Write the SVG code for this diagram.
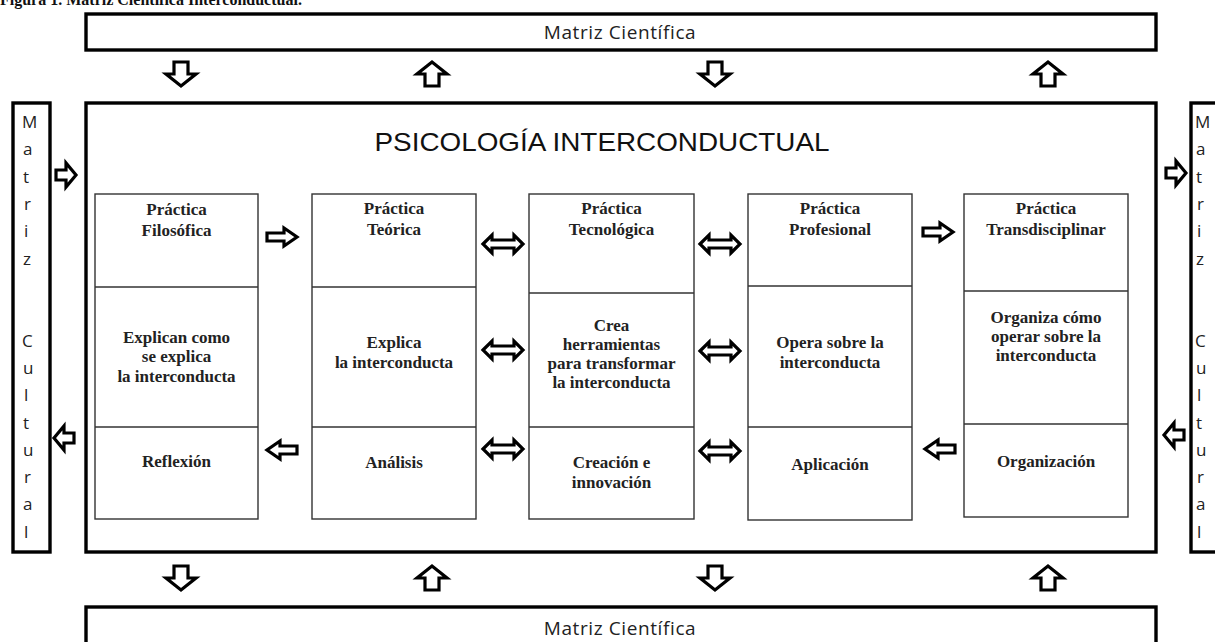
<svg xmlns="http://www.w3.org/2000/svg" width="1215" height="642" viewBox="0 0 1215 642">
<style>
.frame{fill:#fff;stroke:#000;stroke-width:3.4}
.cell{fill:#fff;stroke:#333;stroke-width:1.4}
.div{stroke:#333;stroke-width:1.4}
.arr{fill:#fff;stroke:#000;stroke-width:3.2;stroke-linejoin:miter}
.sans{font-family:"Open Sans","Liberation Sans",sans-serif;font-size:19px;letter-spacing:0.6px;fill:#222}
.vert{font-family:"Open Sans","Liberation Sans",sans-serif;font-size:17px;fill:#222}
.title{font-family:"Liberation Sans",Arial,sans-serif;font-size:26px;fill:#111}
.ser{font-family:"Liberation Serif","Times New Roman",serif;font-weight:bold;font-size:17px;fill:#222;text-anchor:middle}
.cap{font-family:"Liberation Serif","Times New Roman",serif;font-weight:bold;font-size:16px;fill:#111}
</style>
<defs>
<path id="aR" d="M-15,-4 H2 V-9 L15,0 L2,9 V4 H-15 Z"/>
<path id="aL" d="M15,-4 H-2 V-9 L-15,0 L-2,9 V4 H15 Z"/>
<path id="aD" d="M-20,0 L-11,-9 V-4 H11 V-9 L20,0 L11,9 V4 H-11 V9 Z"/>
<path id="sR" d="M-10,-5 H0 V-12 L10,0 L0,12 V5 H-10 Z"/>
<path id="sL" d="M10,-5 H0 V-12 L-10,0 L0,12 V5 H10 Z"/>
<path id="vD" d="M-7,-12 H7 V0 H15 L0,12 L-15,0 H-7 Z"/>
<path id="vU" d="M-7,12 H7 V0 H15 L0,-12 L-15,0 H-7 Z"/>
</defs>
<rect width="1215" height="642" fill="#fff"/>
<text class="cap" x="0" y="5">Figura 1. Matriz Científica Interconductual.</text>

<g id="matriz-cientifica-top">
<rect class="frame" x="86" y="14" width="1070" height="36"/>
<text class="sans" x="620" y="39" text-anchor="middle">Matriz  Científica</text>
</g>

<g id="matriz-cientifica-bottom">
<rect class="frame" x="86" y="607" width="1070" height="50"/>
<text class="sans" x="620" y="635" text-anchor="middle">Matriz  Científica</text>
</g>

<g id="matriz-cultural-left">
<rect class="frame" x="13" y="103" width="37" height="449"/>
<text class="vert">
<tspan x="22" y="128">M</tspan><tspan x="23" y="155">a</tspan><tspan x="23" y="183">t</tspan><tspan x="24" y="210">r</tspan><tspan x="24" y="237">i</tspan><tspan x="23" y="265">z</tspan>
<tspan x="22" y="347">C</tspan><tspan x="23" y="374">u</tspan><tspan x="24" y="401">l</tspan><tspan x="23" y="429">t</tspan><tspan x="23" y="456">u</tspan><tspan x="24" y="483">r</tspan><tspan x="23" y="510">a</tspan><tspan x="24" y="538">l</tspan>
</text>
</g>

<g id="matriz-cultural-right">
<rect class="frame" x="1191" y="103" width="37" height="449"/>
<text class="vert">
<tspan x="1195" y="128">M</tspan><tspan x="1196" y="155">a</tspan><tspan x="1196" y="183">t</tspan><tspan x="1197" y="210">r</tspan><tspan x="1197" y="237">i</tspan><tspan x="1196" y="265">z</tspan>
<tspan x="1195" y="347">C</tspan><tspan x="1196" y="374">u</tspan><tspan x="1197" y="401">l</tspan><tspan x="1196" y="429">t</tspan><tspan x="1196" y="456">u</tspan><tspan x="1197" y="483">r</tspan><tspan x="1196" y="510">a</tspan><tspan x="1197" y="538">l</tspan>
</text>
</g>

<g id="psicologia-interconductual">
<rect class="frame" x="86" y="103" width="1070" height="449"/>
<text class="title" x="602" y="151" text-anchor="middle" textLength="455" lengthAdjust="spacingAndGlyphs">PSICOLOGÍA INTERCONDUCTUAL</text>
</g>

<g id="practica-filosofica">
<rect class="cell" x="95" y="194" width="163" height="325"/>
<line class="div" x1="95" y1="287" x2="258" y2="287"/>
<line class="div" x1="95" y1="427" x2="258" y2="427"/>
<text class="ser"><tspan x="176.5" y="215">Práctica</tspan><tspan x="176.5" y="236">Filosófica</tspan></text>
<text class="ser"><tspan x="176.5" y="343">Explican como</tspan><tspan x="176.5" y="362">se explica</tspan><tspan x="176.5" y="382">la interconducta</tspan></text>
<text class="ser" x="176.5" y="467">Reflexión</text>
</g>

<g id="practica-teorica">
<rect class="cell" x="312" y="194" width="164" height="325"/>
<line class="div" x1="312" y1="287" x2="476" y2="287"/>
<line class="div" x1="312" y1="427" x2="476" y2="427"/>
<text class="ser"><tspan x="394" y="214">Práctica</tspan><tspan x="394" y="235">Teórica</tspan></text>
<text class="ser"><tspan x="394" y="348">Explica</tspan><tspan x="394" y="368">la interconducta</tspan></text>
<text class="ser" x="394" y="468">Análisis</text>
</g>

<g id="practica-tecnologica">
<rect class="cell" x="529" y="194" width="165" height="325"/>
<line class="div" x1="529" y1="293" x2="694" y2="293"/>
<line class="div" x1="529" y1="427" x2="694" y2="427"/>
<text class="ser"><tspan x="611.5" y="214">Práctica</tspan><tspan x="611.5" y="235">Tecnológica</tspan></text>
<text class="ser"><tspan x="611.5" y="331">Crea</tspan><tspan x="611.5" y="350">herramientas</tspan><tspan x="611.5" y="369">para transformar</tspan><tspan x="611.5" y="388">la interconducta</tspan></text>
<text class="ser"><tspan x="611.5" y="468">Creación  e</tspan><tspan x="611.5" y="488">innovación</tspan></text>
</g>

<g id="practica-profesional">
<rect class="cell" x="748" y="194" width="164" height="326"/>
<line class="div" x1="748" y1="286" x2="912" y2="286"/>
<line class="div" x1="748" y1="427" x2="912" y2="427"/>
<text class="ser"><tspan x="830" y="214">Práctica</tspan><tspan x="830" y="235">Profesional</tspan></text>
<text class="ser"><tspan x="830" y="348">Opera  sobre la</tspan><tspan x="830" y="368">interconducta</tspan></text>
<text class="ser" x="830" y="470">Aplicación</text>
</g>

<g id="practica-transdisciplinar">
<rect class="cell" x="964" y="194" width="164" height="323"/>
<line class="div" x1="964" y1="291" x2="1128" y2="291"/>
<line class="div" x1="964" y1="424" x2="1128" y2="424"/>
<text class="ser"><tspan x="1046" y="214">Práctica</tspan><tspan x="1046" y="235">Transdisciplinar</tspan></text>
<text class="ser"><tspan x="1046" y="323">Organiza cómo</tspan><tspan x="1046" y="342">operar sobre la</tspan><tspan x="1046" y="361">interconducta</tspan></text>
<text class="ser" x="1046" y="467">Organización</text>
</g>

<g id="connectors" class="arr">
<use href="#vD" x="181" y="74"/>
<use href="#vU" x="432" y="74"/>
<use href="#vD" x="715" y="74"/>
<use href="#vU" x="1048" y="74"/>
<use href="#vD" x="181" y="578"/>
<use href="#vU" x="432" y="578"/>
<use href="#vD" x="715" y="578"/>
<use href="#vU" x="1048" y="578"/>
<use href="#sR" x="66" y="175"/>
<use href="#sL" x="64" y="438"/>
<use href="#sR" x="1176" y="173"/>
<use href="#sL" x="1174" y="435"/>
<use href="#aR" x="282" y="237"/>
<use href="#aD" x="503" y="244"/>
<use href="#aD" x="720" y="244"/>
<use href="#aR" x="938" y="232"/>
<use href="#aD" x="503" y="350"/>
<use href="#aD" x="720" y="351"/>
<use href="#aL" x="282" y="450"/>
<use href="#aD" x="503" y="449"/>
<use href="#aD" x="720" y="451"/>
<use href="#aL" x="940" y="449"/>
</g>
</svg>
